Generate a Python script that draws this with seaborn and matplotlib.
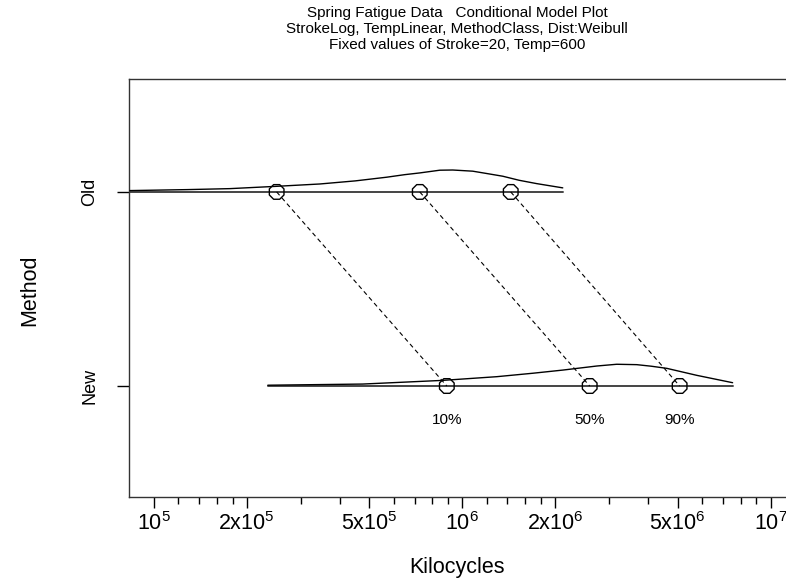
import numpy as np
import pandas as pd
import matplotlib

matplotlib.use("Agg")
import matplotlib.pyplot as plt
import matplotlib.ticker as mticker
import seaborn as sns

# --- data ---
methods = ["New", "Old"]
method_pos = [0, 1]
pct_labels = ["10%", "50%", "90%"]
old_quantiles = [250000, 728000, 1436000]
new_quantiles = [891000, 2590000, 5070000]
old_range = [70000, 2120000]
new_range = [234000, 7530000]

old_curve_x = [83600, 128000, 176000, 250000, 345000, 450000, 569000, 650000,
               728000, 845000, 931000, 1081000, 1200000, 1353000, 1530000,
               1742000, 2118000]
old_curve_h = [0.007, 0.012, 0.017, 0.029, 0.041, 0.057, 0.076, 0.089,
               0.098, 0.112, 0.113, 0.107, 0.095, 0.081, 0.060,
               0.043, 0.021]
new_curve_x = [234000, 475000, 865000, 1294000, 1700000, 2118000, 2731000,
               3169000, 3680000, 4100000, 4605000, 5760000, 7530000]
new_curve_h = [0.004, 0.010, 0.029, 0.048, 0.066, 0.082, 0.103,
               0.112, 0.110, 0.102, 0.091, 0.055, 0.017]

major_ticks = [1e5, 2e5, 5e5, 1e6, 2e6, 5e6, 1e7]
major_labels = [r"$10^5$", r"$2\mathrm{x}10^5$", r"$5\mathrm{x}10^5$", r"$10^6$",
                r"$2\mathrm{x}10^6$", r"$5\mathrm{x}10^6$", r"$10^7$"]
minor_ticks = [1.2e5, 1.4e5, 1.6e5, 1.8e5, 3e5, 4e5, 6e5, 7e5, 8e5, 9e5,
               1.2e6, 1.4e6, 1.6e6, 1.8e6, 3e6, 4e6, 6e6, 7e6, 8e6, 9e6]

title_lines = ["Spring Fatigue Data   Conditional Model Plot",
               "StrokeLog, TempLinear, MethodClass, Dist:Weibull",
               "Fixed values of Stroke=20, Temp=600"]

sns.set_style("white", rc={"text.color": "black", "axes.labelcolor": "black",
                           "xtick.color": "black", "ytick.color": "black"})
plt.rcParams["font.family"] = ["Liberation Sans", "DejaVu Sans"]
plt.rcParams["mathtext.fontset"] = "custom"
plt.rcParams["mathtext.rm"] = "Liberation Sans"
plt.rcParams["mathtext.it"] = "Liberation Sans:italic"

fig = plt.figure(figsize=(7.86, 5.81), dpi=100)
ax = fig.add_axes([129 / 786, 1 - 497 / 581, 1 - 129 / 786, (497 - 79) / 581])
ax.set_xscale("log")
ax.set_xlim(10 ** 4.919, 10 ** 7.05)
ax.set_ylim(-0.572, 1.582)

# baselines
for pos, rng in zip([1, 0], [old_range, new_range]):
    ax.plot(rng, [pos, pos], color="#444444", lw=1.4, zorder=2)

# density curves
curves = pd.concat([
    pd.DataFrame({"x": old_curve_x, "y": 1 + np.array(old_curve_h), "m": "Old"}),
    pd.DataFrame({"x": new_curve_x, "y": 0 + np.array(new_curve_h), "m": "New"}),
])
sns.lineplot(data=curves, x="x", y="y", units="m", estimator=None, sort=False,
             color="black", lw=1.0, ax=ax, zorder=3)

# dashed connectors
for oq, nq in zip(old_quantiles, new_quantiles):
    ax.plot([oq, nq], [1, 0], color="black", lw=0.8, ls=(0, (4, 3)), zorder=2)

# quantile markers
pts = pd.DataFrame({"x": old_quantiles + new_quantiles,
                    "y": [1] * 3 + [0] * 3})
sns.scatterplot(data=pts, x="x", y="y", marker="8", s=130, facecolor="none",
                edgecolor="black", linewidth=1.0, ax=ax, zorder=4)

for q, lab in zip(new_quantiles, pct_labels):
    ax.text(q, -0.175, lab, ha="center", va="center", fontsize=11)

# axes styling
ax.xaxis.set_major_locator(mticker.FixedLocator(major_ticks))
ax.xaxis.set_major_formatter(mticker.FixedFormatter(major_labels))
ax.xaxis.set_minor_locator(mticker.FixedLocator(minor_ticks))
ax.xaxis.set_minor_formatter(mticker.NullFormatter())
ax.tick_params(axis="x", which="major", direction="out", length=8, width=1,
               labelsize=15.5, pad=3, bottom=True)
ax.tick_params(axis="x", which="minor", direction="out", length=5, width=1,
               bottom=True)
ax.set_yticks(method_pos)
ax.set_yticklabels(methods, rotation=90, va="center", fontsize=13)
ax.tick_params(axis="y", direction="out", length=9, width=1, pad=13, left=True)

for side in ["left", "top", "bottom"]:
    ax.spines[side].set_color("#333333")
    ax.spines[side].set_linewidth(1.0)
ax.spines["right"].set_visible(False)

ax.set_xlabel("Kilocycles", fontsize=15.5, va="center")
ax.xaxis.set_label_coords((457 - 129) / 657, (497 - 568) / 418)
ax.set_ylabel("Method", fontsize=15.5, va="center")
ax.yaxis.set_label_coords((30 - 129) / 657, (497 - 290) / 418)

for i, line in enumerate(title_lines):
    fig.text(457 / 786, 1 - (13 + 16 * i) / 581, line, ha="center",
             va="center", fontsize=11)

fig.savefig("out.png", dpi=100)
